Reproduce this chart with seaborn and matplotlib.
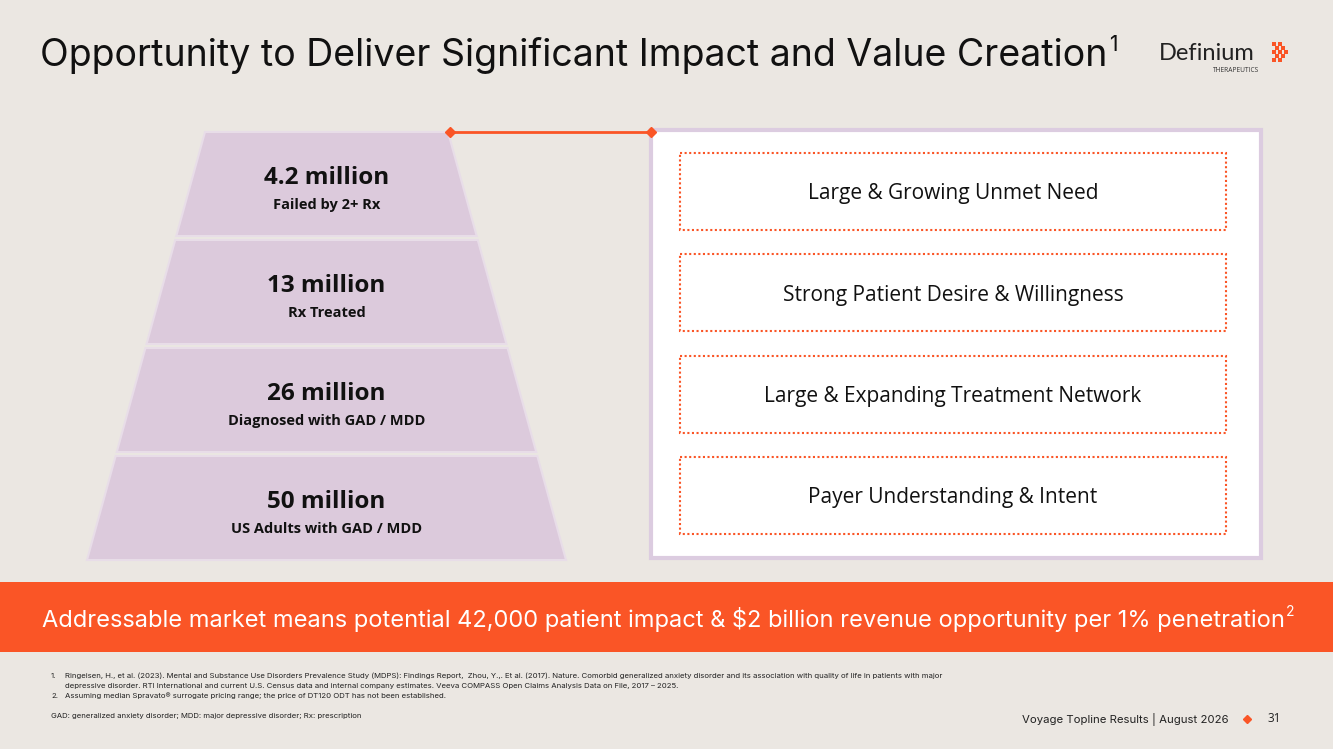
import matplotlib
matplotlib.use("Agg")
import matplotlib.pyplot as plt
import seaborn as sns
from matplotlib.patches import Polygon, Rectangle

sns.set_theme(style="white")
plt.rcParams['font.family'] = ['Open Sans', 'DejaVu Sans']

values = ["4.2 million", "13 million", "26 million", "50 million"]
sublabels = ["Failed by 2+ Rx", "Rx Treated", "Diagnosed with GAD / MDD", "US Adults with GAD / MDD"]
drivers = ["Large & Growing Unmet Need", "Strong Patient Desire & Willingness",
           "Large & Expanding Treatment Network", "Payer Understanding & Intent"]

BG = "#EBE7E2"
ORANGE = "#FA5526"
PURPLE = "#DCCADC"
SANS = ["Inter", "DejaVu Sans"]

fig = plt.figure(figsize=(13.33, 7.49), dpi=100, facecolor=BG)
ax = fig.add_axes([0, 0, 1, 1])
ax.set_xlim(0, 1333); ax.set_ylim(749, 0); ax.axis("off")
ax.set_facecolor(BG)
fig.canvas.draw()
renderer = fig.canvas.get_renderer()

def right_edge(t):
    bb = t.get_window_extent(renderer)
    return ax.transData.inverted().transform((bb.x1, bb.y1))[0]

title = ax.text(40, 56, "Opportunity to Deliver Significant Impact and Value Creation", fontsize=27,
                va="center", ha="left", color="#111111", family=SANS)
ax.text(right_edge(title) + 2, 45, "1", fontsize=15, va="center", color="#111111", family=SANS)
ax.text(1159, 54, "Definium", fontsize=17, va="center", color="#222222", family=["Lato", "DejaVu Sans"])
ax.text(1236, 70, "THERAPEUTICS", fontsize=4.8, va="center", ha="center", color="#333333")
for dx, dy in [(0, 0), (6, 0), (3, 4), (9, 4), (0, 8), (6, 8), (12, 8), (3, 12), (9, 12), (0, 16), (6, 16)]:
    ax.add_patch(Rectangle((1272 + dx, 42 + dy), 3.5, 3.5, color=ORANGE, lw=0))

# funnel
cx = 326.5
top, bottom = 132, 560
def half(y):
    return 121.5 + (y - top) * (239.5 - 121.5) / (bottom - top)
tier_h, gap = 104, 4
for i, (v, s) in enumerate(zip(values, sublabels)):
    y0 = top + i * (tier_h + gap)
    y1 = y0 + tier_h
    poly = [(cx - half(y0), y0), (cx + half(y0), y0), (cx + half(y1), y1), (cx - half(y1), y1)]
    ax.add_patch(Polygon(poly, closed=True, fc=PURPLE, ec="#E8DDE8", lw=1.5))
    ax.text(cx, y0 + 46, v, fontsize=17.5, fontweight="bold", ha="center", va="center", color="#111111")
    ax.text(cx, y0 + 73, s, fontsize=10.5, fontweight="bold", ha="center", va="center", color="#111111")

# connector
ax.plot([450, 651], [132, 132], color=ORANGE, lw=2, zorder=3)
ax.plot([450, 651], [132, 132], ls="none", marker="D", ms=5, color=ORANGE, zorder=4)

# right panel
ax.add_patch(Rectangle((651, 130), 610, 428, fc="white", ec="#DCCCE0", lw=3))
for i, d in enumerate(drivers):
    y0 = 153 + i * 101.3
    ax.add_patch(Rectangle((680, y0), 546, 77, fc="white", ec=ORANGE, lw=1.5, ls=(0, (1, 1.2))))
    ax.text(953, y0 + 41, d, fontsize=15, ha="center", va="center", color="#111111")

# banner
ax.add_patch(Rectangle((0, 582), 1333, 70, fc=ORANGE, lw=0))
ban = ax.text(42, 619, "Addressable market means potential 42,000 patient impact & $2 billion revenue opportunity per 1% penetration",
              fontsize=17, color="white", va="center", family=SANS)
ax.text(right_edge(ban) + 1, 612, "2", fontsize=10, color="white", va="center", family=SANS)

# footnotes
fn = dict(fontsize=5.6, color="#222222", va="center", family=SANS)
ax.text(51, 676, "1.", **fn)
ax.text(65, 676, "Ringeisen, H., et al. (2023). Mental and Substance Use Disorders Prevalence Study (MDPS): Findings Report,  Zhou, Y.,. Et al. (2017). Nature. Comorbid generalized anxiety disorder and its association with quality of life in patients with major", **fn)
ax.text(65, 686, "depressive disorder. RTI International and current U.S. Census data and internal company estimates. Veeva COMPASS Open Claims Analysis Data on File, 2017 – 2025.", **fn)
ax.text(51, 696, "2.", **fn)
ax.text(65, 696, "Assuming median Spravato® surrogate pricing range; the price of DT120 ODT has not been established.", **fn)
ax.text(51, 716, "GAD: generalized anxiety disorder; MDD: major depressive disorder; Rx: prescription", **fn)

ax.text(1228, 719, "Voyage Topline Results | August 2026", fontsize=8.2, ha="right", va="center", color="#222222",
        family=SANS)
ax.plot([1247], [719], marker="D", ms=4, color=ORANGE)
ax.text(1281, 719, "31", fontsize=8.5, ha="right", va="center", color="#222222")

fig.savefig("out.png", dpi=100, facecolor=BG)
